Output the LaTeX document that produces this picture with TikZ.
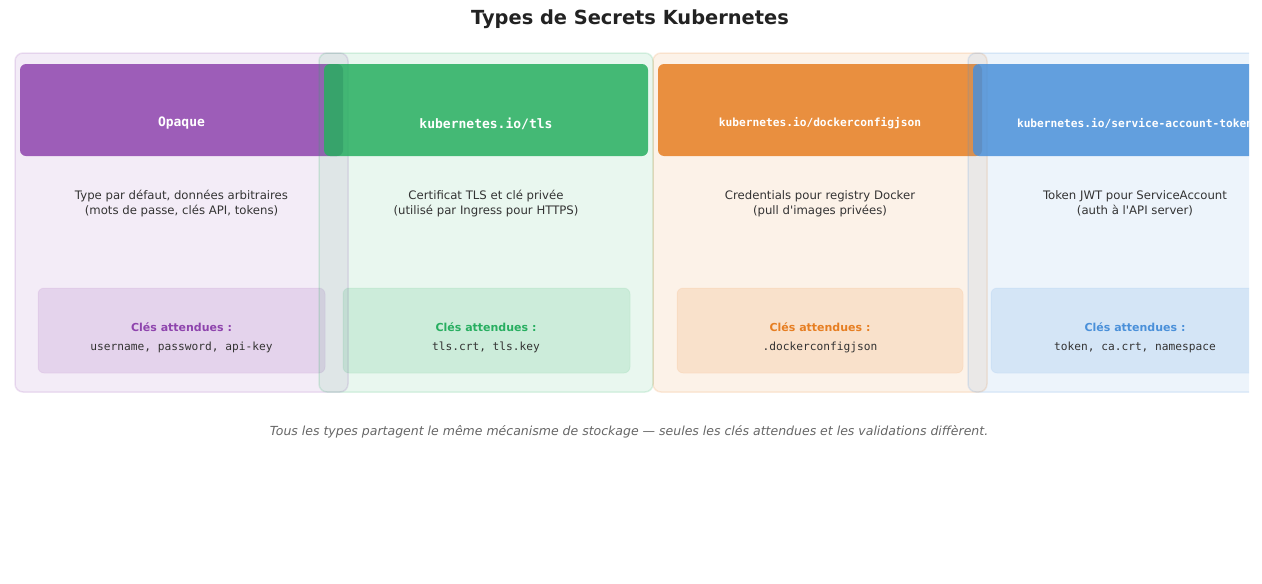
\documentclass[tikz,border=0pt]{standalone}
\usepackage{fontspec}
\setmainfont{DejaVu Sans}
\setmonofont{DejaVu Sans Mono}

% Colours of the four secret types
\definecolor{opaquecol}{HTML}{8E44AD}
\definecolor{tlscol}{HTML}{27AE60}
\definecolor{dockercol}{HTML}{E67E22}
\definecolor{tokencol}{HTML}{4A90D9}
\definecolor{darktext}{HTML}{333333}
\definecolor{titletext}{HTML}{222222}
\definecolor{notetext}{HTML}{666666}

\tikzset{
  panel/.style={rounded corners=8pt, fill=#1, fill opacity=0.1, draw=#1, draw opacity=0.15, line width=1.5pt},
  headbox/.style={rounded corners=6pt, fill=#1, fill opacity=0.85},
  keybox/.style={rounded corners=6pt, fill=#1, fill opacity=0.15, draw=#1, draw opacity=0.08, line width=1pt},
  headtext/.style={text=white, font=\ttfamily\bfseries\fontsize{13}{15}\selectfont},
  longhead/.style={text=white, font=\ttfamily\bfseries\fontsize{11.2}{13}\selectfont},
  desctext/.style={text=darktext, align=center, font=\fontsize{11.7}{14.8}\selectfont},
  keylabel/.style={text=#1, font=\bfseries\fontsize{11}{13}\selectfont},
  keylist/.style={text=darktext, font=\ttfamily\fontsize{11.2}{13}\selectfont}
}

\begin{document}
\begin{tikzpicture}[x=1pt, y=-1pt]
\useasboundingbox (0,0) rectangle (1262,584);

% Title
\node[text=titletext, font=\bfseries\fontsize{19.4}{22}\selectfont] (title) at (630,19) {Types de Secrets Kubernetes};

\begin{scope}
\clip (0,0) rectangle (1249,584);

% Opaque
\draw[panel=opaquecol] (15,53) rectangle (348,392);
\fill[headbox=opaquecol] (20,64) rectangle (343,156);
\draw[keybox=opaquecol] (38,288) rectangle (325,373);
\node[headtext] (hdopaque) at (181.5,123.5) {Opaque};
\node[desctext] (dsopaque) at (181.5,203.5) {Type par défaut, données arbitraires\\(mots de passe, clés API, tokens)};
\node[keylabel=opaquecol] (kyopaque) at (181.5,327.5) {Clés attendues :};
\node[keylist] (lsopaque) at (181.5,347.5) {username, password, api-key};

% TLS
\draw[panel=tlscol] (319,53) rectangle (653,392);
\fill[headbox=tlscol] (324,64) rectangle (648,156);
\draw[keybox=tlscol] (343,288) rectangle (630,373);
\node[headtext] (hdtls) at (486,123.5) {kubernetes.io/tls};
\node[desctext] (dstls) at (486,203.5) {Certificat TLS et clé privée\\(utilisé par Ingress pour HTTPS)};
\node[keylabel=tlscol] (kytls) at (486,327.5) {Clés attendues :};
\node[keylist] (lstls) at (486,347.5) {tls.crt, tls.key};

% Docker config
\draw[panel=dockercol] (653,53) rectangle (987,392);
\fill[headbox=dockercol] (658,64) rectangle (982,156);
\draw[keybox=dockercol] (677,288) rectangle (963,373);
\node[longhead] (hddocker) at (820,123) {kubernetes.io/dockerconfigjson};
\node[desctext] (dsdocker) at (820,203.5) {Credentials pour registry Docker\\(pull d\textquotesingle images privées)};
\node[keylabel=dockercol] (kydocker) at (820,327.5) {Clés attendues :};
\node[keylist] (lsdocker) at (820,347.5) {.dockerconfigjson};

% Service account token
\draw[panel=tokencol] (968,53) rectangle (1302,392);
\fill[headbox=tokencol] (973,64) rectangle (1297,156);
\draw[keybox=tokencol] (991,288) rectangle (1278,373);
\node[longhead] (hdtoken) at (1135,123) {kubernetes.io/service-account-token};
\node[desctext] (dstoken) at (1135,203.5) {Token JWT pour ServiceAccount\\(auth à l\textquotesingle API server)};
\node[keylabel=tokencol] (kytoken) at (1135,327.5) {Clés attendues :};
\node[keylist] (lstoken) at (1135,347.5) {token, ca.crt, namespace};
\end{scope}

% Footer note
\node[text=notetext, font=\itshape\fontsize{12.5}{14}\selectfont] (note) at (629,431.5) {Tous les types partagent le même mécanisme de stockage — seules les clés attendues et les validations diffèrent.};
\end{tikzpicture}
\end{document}
